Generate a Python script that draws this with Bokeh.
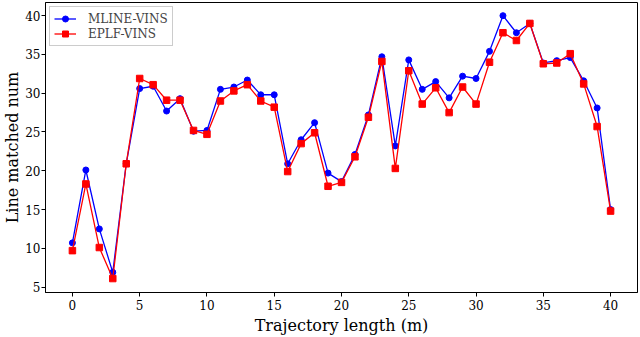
from bokeh.plotting import figure
from bokeh.embed import file_html
from bokeh.resources import INLINE
from bokeh.models import Range1d, FixedTicker

x = list(range(41))
mline = [10.7, 20.1, 12.5, 6.9, 20.9, 30.6, 30.9, 27.7, 29.3, 25.1,
         25.2, 30.5, 30.8, 31.7, 29.8, 29.8, 20.9, 24.0, 26.2, 19.7,
         18.6, 22.1, 27.2, 34.7, 23.2, 34.3, 30.5, 31.5, 29.4, 32.2,
         31.9, 35.4, 40.0, 37.8, 39.0, 33.9, 34.2, 34.6, 31.6, 28.1,
         15.0]
eplf = [9.7, 18.3, 10.1, 6.1, 20.9, 31.9, 31.1, 29.1, 29.1, 25.2,
        24.7, 29.0, 30.3, 31.1, 29.0, 28.2, 19.9, 23.5, 24.9, 18.0,
        18.5, 21.8, 26.9, 34.1, 20.3, 32.9, 28.6, 30.7, 27.5, 30.8,
        28.6, 34.0, 37.8, 36.8, 39.0, 33.8, 33.9, 35.1, 31.2, 25.7,
        14.8]
xticks = [0, 5, 10, 15, 20, 25, 30, 35, 40]
yticks = [5, 10, 15, 20, 25, 30, 35, 40]

FONT = "DejaVu Serif"

p = figure(width=640, height=337, output_backend="svg", toolbar_location=None,
           x_range=Range1d(-2.0, 42.0), y_range=Range1d(4.3, 41.7),
           min_border_left=43, min_border_right=3, min_border_top=2,
           min_border_bottom=40)

p.line(x, mline, color="#0000ff", line_width=1.3, legend_label="MLINE-VINS")
p.scatter(x, mline, marker="circle", size=6, color="#0000ff", legend_label="MLINE-VINS")
p.line(x, eplf, color="#ff0000", line_width=1.3, legend_label="EPLF-VINS")
p.scatter(x, eplf, marker="square", size=6.5, color="#ff0000", legend_label="EPLF-VINS")

p.xgrid.visible = False
p.ygrid.visible = False
p.outline_line_color = "black"
p.outline_line_alpha = 1.0
p.outline_line_width = 1

for ax in (p.xaxis[0], p.yaxis[0]):
    ax.minor_tick_line_color = None
    ax.major_tick_out = 4
    ax.major_tick_in = 0
    ax.axis_line_color = "black"
    ax.major_tick_line_color = "black"
    ax.major_label_text_font = FONT
    ax.major_label_text_font_size = "12px"
    ax.major_label_text_color = "black"
    ax.axis_label_text_font = FONT
    ax.axis_label_text_font_size = "16px"
    ax.axis_label_text_font_style = "normal"
    ax.axis_label_text_color = "black"

p.xaxis.ticker = FixedTicker(ticks=xticks)
p.yaxis.ticker = FixedTicker(ticks=yticks)
p.xaxis.axis_label = "Trajectory length (m)"
p.yaxis.axis_label = "Line matched num"
p.xaxis.axis_label_standoff = 3
p.yaxis.axis_label_standoff = 0
p.xaxis.major_label_standoff = 3
p.yaxis.major_label_standoff = 1

lg = p.legend[0]
lg.location = "top_left"
lg.label_text_font = FONT
lg.label_text_font_size = "12px"
lg.border_line_color = "#cccccc"
lg.border_line_alpha = 1.0
lg.background_fill_alpha = 0.8
lg.margin = 4
lg.padding = 4
lg.spacing = 0
lg.glyph_width = 22
lg.glyph_height = 15
lg.label_standoff = 12
lg.label_height = 15

open("out.html", "w").write(file_html(p, INLINE))
